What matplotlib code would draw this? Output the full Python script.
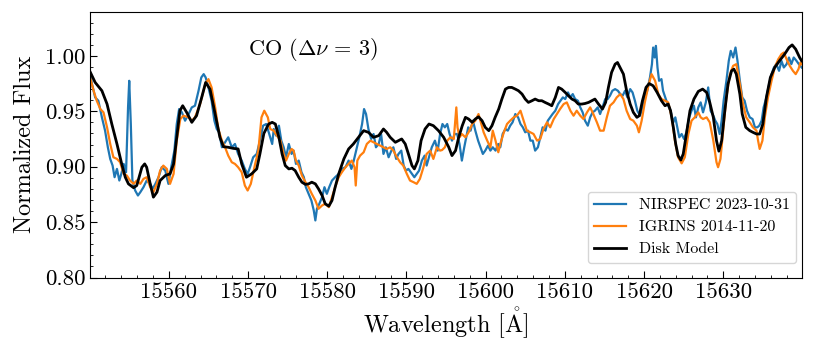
import matplotlib
matplotlib.use("Agg")
import matplotlib.pyplot as plt
from matplotlib.ticker import MultipleLocator, FuncFormatter

plt.rcParams['font.family'] = 'serif'
plt.rcParams['font.serif'] = ['cmr10']
plt.rcParams['mathtext.fontset'] = 'cm'
plt.rcParams['axes.formatter.use_mathtext'] = True
plt.rcParams['axes.unicode_minus'] = False

# ---- data -------------------------------------------------------------
nirspec_wl = [
    15550.0, 15550.3, 15550.7, 15551.1, 15551.55, 15551.95, 15552.3, 15552.6, 15552.9, 15553.15,
    15553.45, 15553.75, 15554.0, 15554.3, 15554.6, 15554.85, 15555.0, 15555.2, 15555.4, 15555.75,
    15556.1, 15556.4, 15556.8, 15557.2, 15557.65, 15557.95, 15558.3, 15558.7, 15559.1, 15559.55,
    15559.95, 15560.3, 15560.7, 15561.0, 15561.3, 15561.65, 15562.05, 15562.5, 15562.9, 15563.3,
    15563.75, 15564.1, 15564.4, 15564.65, 15565.0, 15565.4, 15565.75, 15566.05, 15566.35, 15566.7,
    15567.1, 15567.5, 15567.95, 15568.35, 15568.75, 15569.2, 15569.6, 15569.95, 15570.25, 15570.65,
    15571.1, 15571.5, 15571.9, 15572.3, 15572.55, 15572.8, 15573.05, 15573.25, 15573.55, 15573.9,
    15574.2, 15574.5, 15574.8, 15575.15, 15575.5, 15575.75, 15576.05, 15576.4, 15576.75, 15577.05,
    15577.3, 15577.65, 15578.0, 15578.3, 15578.5, 15578.7, 15579.0, 15579.35, 15579.65, 15579.95,
    15580.25, 15580.6, 15581.0, 15581.45, 15581.85, 15582.3, 15582.7, 15583.05, 15583.35, 15583.75,
    15584.05, 15584.4, 15584.65, 15584.9, 15585.2, 15585.55, 15585.85, 15586.15, 15586.5, 15586.8,
    15587.1, 15587.4, 15587.75, 15588.1, 15588.35, 15588.7, 15589.0, 15589.35, 15589.65, 15589.95,
    15590.25, 15590.7, 15591.0, 15591.3, 15591.6, 15591.95, 15592.3, 15592.55, 15592.85, 15593.2,
    15593.6, 15593.95, 15594.25, 15594.55, 15594.85, 15595.15, 15595.45, 15595.75, 15596.1, 15596.4,
    15596.7, 15597.0, 15597.3, 15597.55, 15597.8, 15598.1, 15598.4, 15598.7, 15599.05, 15599.35,
    15599.65, 15599.95, 15600.3, 15600.6, 15600.9, 15601.25, 15601.6, 15601.85, 15602.15, 15602.5,
    15602.8, 15603.1, 15603.4, 15603.75, 15604.1, 15604.4, 15604.7, 15605.0, 15605.35, 15605.65,
    15605.95, 15606.25, 15606.6, 15606.9, 15607.2, 15607.55, 15607.85, 15608.15, 15608.45, 15608.8,
    15609.15, 15609.45, 15609.75, 15610.05, 15610.4, 15610.7, 15611.0, 15611.3, 15611.65, 15611.95,
    15612.25, 15612.55, 15612.9, 15613.2, 15613.5, 15613.8, 15614.15, 15614.45, 15614.75, 15615.1,
    15615.4, 15615.7, 15616.0, 15616.35, 15616.7, 15617.0, 15617.3, 15617.6, 15617.9, 15618.25,
    15618.55, 15618.85, 15619.15, 15619.5, 15619.8, 15620.1, 15620.4, 15620.75, 15621.0, 15621.15,
    15621.35, 15621.5, 15621.7, 15621.9, 15622.2, 15622.4, 15622.75, 15623.05, 15623.35, 15623.7,
    15623.95, 15624.2, 15624.45, 15624.75, 15625.05, 15625.35, 15625.7, 15626.0, 15626.3, 15626.55,
    15626.85, 15627.15, 15627.45, 15627.8, 15628.1, 15628.4, 15628.75, 15629.0, 15629.25, 15629.55,
    15629.8, 15630.05, 15630.4, 15630.7, 15630.95, 15631.25, 15631.55, 15631.8, 15632.1, 15632.4,
    15632.7, 15633.0, 15633.35, 15633.7, 15634.0, 15634.3, 15634.55, 15634.85, 15635.1, 15635.45,
    15635.8, 15636.1, 15636.4, 15636.7, 15637.05, 15637.35, 15637.65, 15638.0, 15638.3, 15638.6,
    15638.9, 15639.25, 15639.55, 15639.9,
]
nirspec_flux = [
    0.9865, 0.9745, 0.9625, 0.9595, 0.9445, 0.9325, 0.9175, 0.907, 0.901, 0.8905,
    0.898, 0.8875, 0.8935, 0.9025, 0.895, 0.9535, 0.9775, 0.9385, 0.8875, 0.8785,
    0.874, 0.877, 0.8815, 0.8875, 0.8845, 0.880, 0.8845, 0.8905, 0.8995, 0.8965,
    0.8845, 0.8995, 0.9145, 0.9385, 0.952, 0.949, 0.9415, 0.9475, 0.9535, 0.955,
    0.9685, 0.9805, 0.9835, 0.9805, 0.9715, 0.9595, 0.9415, 0.934, 0.931, 0.9175,
    0.922, 0.9265, 0.9175, 0.9205, 0.9115, 0.9055, 0.898, 0.8935, 0.8995, 0.9085,
    0.9115, 0.9235, 0.937, 0.9385, 0.9325, 0.9265, 0.9205, 0.934, 0.928, 0.937,
    0.9235, 0.9175, 0.9085, 0.9205, 0.9115, 0.9145, 0.9025, 0.9055, 0.895, 0.8905,
    0.8815, 0.8755, 0.8695, 0.8605, 0.8515, 0.862, 0.8665, 0.8725, 0.8815, 0.8755,
    0.8815, 0.8875, 0.8905, 0.8935, 0.898, 0.8995, 0.9055, 0.898, 0.9055, 0.9175,
    0.9265, 0.9385, 0.952, 0.9475, 0.934, 0.925, 0.9295, 0.9175, 0.9205, 0.9295,
    0.9115, 0.9175, 0.9085, 0.9145, 0.9175, 0.907, 0.9115, 0.9145, 0.901, 0.8965,
    0.898, 0.8935, 0.8905, 0.8935, 0.8965, 0.9055, 0.910, 0.901, 0.9085, 0.9175,
    0.9235, 0.9145, 0.9295, 0.9385, 0.9355, 0.9385, 0.9295, 0.9235, 0.9295, 0.9295,
    0.9205, 0.9055, 0.9175, 0.9265, 0.9355, 0.9325, 0.9415, 0.9325, 0.9235, 0.9175,
    0.9115, 0.9145, 0.919, 0.9145, 0.9175, 0.9145, 0.9205, 0.9175, 0.9295, 0.934,
    0.9325, 0.937, 0.940, 0.9475, 0.9445, 0.9385, 0.9355, 0.931, 0.9325, 0.9235,
    0.9235, 0.9145, 0.9175, 0.9265, 0.9355, 0.9325, 0.9415, 0.9445, 0.9475, 0.9505,
    0.9565, 0.9595, 0.9625, 0.961, 0.967, 0.9625, 0.9655, 0.961, 0.9595, 0.9535,
    0.949, 0.9415, 0.937, 0.9445, 0.949, 0.9505, 0.9535, 0.9475, 0.9535, 0.961,
    0.961, 0.964, 0.9685, 0.970, 0.9685, 0.9655, 0.964, 0.9685, 0.9625, 0.970,
    0.967, 0.9595, 0.9505, 0.946, 0.9535, 0.9625, 0.9685, 0.9805, 0.9925, 1.0075,
    0.9985, 1.009, 0.9895, 0.9775, 0.979, 0.9685, 0.961, 0.955, 0.9505, 0.940,
    0.9445, 0.9355, 0.9265, 0.9295, 0.925, 0.931, 0.9445, 0.9505, 0.955, 0.9445,
    0.9535, 0.958, 0.949, 0.958, 0.9715, 0.9505, 0.946, 0.9415, 0.9385, 0.9295,
    0.9415, 0.9595, 0.9775, 0.9955, 1.0045, 0.9985, 1.0075, 0.9955, 0.9775, 0.9625,
    0.9595, 0.9505, 0.9445, 0.943, 0.9355, 0.9355, 0.937, 0.9415, 0.9535, 0.9625,
    0.9745, 0.9835, 0.9895, 0.9925, 0.9865, 0.9955, 0.9895, 0.9925, 0.9985, 0.9925,
    0.9985, 0.9955, 0.9925, 0.9895,
]

igrins_wl = [
    15550.0, 15550.5, 15550.9, 15551.35, 15551.75, 15552.2, 15552.6, 15553.0, 15553.45, 15553.85,
    15554.3, 15554.7, 15555.1, 15555.55, 15555.95, 15556.4, 15556.8, 15557.2, 15557.65, 15558.05,
    15558.5, 15558.9, 15559.3, 15559.75, 15560.15, 15560.6, 15561.0, 15561.45, 15561.85, 15562.5,
    15562.9, 15563.3, 15563.95, 15564.6, 15565.0, 15565.4, 15565.85, 15566.25, 15566.7, 15567.1,
    15567.5, 15567.95, 15568.35, 15568.75, 15569.2, 15569.6, 15569.95, 15570.35, 15570.9, 15571.3,
    15571.7, 15572.05, 15572.5, 15572.8, 15573.25, 15573.65, 15574.1, 15574.5, 15574.8, 15575.15,
    15575.5, 15575.75, 15576.05, 15576.4, 15576.8, 15577.25, 15577.65, 15578.05, 15578.5, 15578.9,
    15579.35, 15579.75, 15580.2, 15580.6, 15581.0, 15581.45, 15581.85, 15582.3, 15582.7, 15583.1,
    15583.45, 15583.6, 15583.8, 15584.15, 15584.6, 15585.0, 15585.45, 15585.85, 15586.25, 15586.7,
    15587.1, 15587.5, 15587.95, 15588.35, 15588.8, 15589.2, 15589.6, 15590.05, 15590.45, 15590.9,
    15591.3, 15591.7, 15592.15, 15592.55, 15593.0, 15593.4, 15593.85, 15594.25, 15594.5, 15594.85,
    15595.15, 15595.55, 15595.98, 15596.3, 15596.45, 15596.7, 15597.0, 15597.45, 15597.85, 15598.3,
    15598.7, 15599.1, 15599.45, 15599.75, 15600.2, 15600.6, 15600.9, 15601.25, 15601.6, 15601.85,
    15602.3, 15602.7, 15603.1, 15603.55, 15603.95, 15604.4, 15604.8, 15605.2, 15605.65, 15606.05,
    15606.5, 15606.9, 15607.3, 15607.75, 15608.15, 15608.6, 15609.0, 15609.4, 15609.85, 15610.25,
    15610.7, 15611.1, 15611.5, 15611.95, 15612.35, 15612.8, 15613.2, 15613.6, 15614.05, 15614.45,
    15614.9, 15615.3, 15615.7, 15616.15, 15616.55, 15617.0, 15617.4, 15617.8, 15618.25, 15618.65,
    15619.1, 15619.35, 15619.7, 15620.1, 15620.55, 15620.95, 15621.4, 15621.8, 15622.2, 15622.65,
    15623.05, 15623.5, 15623.9, 15624.3, 15624.75, 15625.15, 15625.6, 15626.0, 15626.4, 15626.85,
    15627.15, 15627.45, 15627.9, 15628.3, 15628.75, 15629.15, 15629.35, 15629.65, 15630.0, 15630.4,
    15630.85, 15631.25, 15631.65, 15632.1, 15632.5, 15632.9, 15633.35, 15633.75, 15634.2, 15634.4,
    15634.6, 15634.95, 15635.25, 15635.65, 15636.1, 15636.5, 15636.95, 15637.35, 15637.65, 15638.0,
    15638.4, 15638.8, 15639.15, 15639.5, 15639.75, 15639.9,
]
igrins_flux = [
    0.982, 0.9685, 0.9595, 0.952, 0.949, 0.9355, 0.9205, 0.9085, 0.907, 0.904,
    0.8935, 0.892, 0.8875, 0.8845, 0.8875, 0.8845, 0.889, 0.8905, 0.8815, 0.877,
    0.8845, 0.8965, 0.901, 0.898, 0.8845, 0.8935, 0.9235, 0.943, 0.946, 0.9445,
    0.9415, 0.9445, 0.9565, 0.9745, 0.979, 0.9715, 0.9535, 0.934, 0.9235, 0.9175,
    0.910, 0.904, 0.9025, 0.8995, 0.895, 0.883, 0.8785, 0.8845, 0.9025, 0.9145,
    0.9445, 0.9505, 0.9445, 0.934, 0.9325, 0.928, 0.9235, 0.9115, 0.9055, 0.9115,
    0.916, 0.9145, 0.9055, 0.901, 0.892, 0.886, 0.8815, 0.8755, 0.8695, 0.862,
    0.865, 0.8665, 0.8635, 0.8725, 0.8815, 0.8905, 0.895, 0.8995, 0.9025, 0.9055,
    0.8995, 0.883, 0.9055, 0.910, 0.913, 0.9205, 0.9235, 0.922, 0.9205, 0.919,
    0.9175, 0.916, 0.9175, 0.9145, 0.9085, 0.904, 0.901, 0.8935, 0.8875, 0.886,
    0.8845, 0.889, 0.8995, 0.9115, 0.9145, 0.907, 0.9175, 0.9145, 0.915, 0.9175,
    0.9235, 0.9265, 0.925, 0.9535, 0.9355, 0.9265, 0.9295, 0.9265, 0.931, 0.9385,
    0.9415, 0.9475, 0.9385, 0.931, 0.9235, 0.9175, 0.9325, 0.9235, 0.913, 0.9205,
    0.931, 0.9385, 0.9415, 0.9445, 0.946, 0.9505, 0.9415, 0.9325, 0.931, 0.9295,
    0.9235, 0.925, 0.934, 0.940, 0.9355, 0.943, 0.9475, 0.952, 0.9565, 0.958,
    0.9505, 0.946, 0.9505, 0.946, 0.943, 0.949, 0.9535, 0.9475, 0.940, 0.9325,
    0.9325, 0.9445, 0.955, 0.958, 0.9625, 0.9655, 0.961, 0.9505, 0.943, 0.9415,
    0.937, 0.931, 0.9415, 0.958, 0.973, 0.9835, 0.9775, 0.9655, 0.961, 0.9595,
    0.958, 0.9445, 0.9235, 0.9085, 0.903, 0.9085, 0.9295, 0.9415, 0.9445, 0.949,
    0.9445, 0.943, 0.9445, 0.940, 0.9235, 0.904, 0.8995, 0.907, 0.9325, 0.9625,
    0.9835, 0.991, 0.9925, 0.9745, 0.9565, 0.9445, 0.940, 0.9355, 0.9325, 0.9235,
    0.916, 0.9235, 0.9445, 0.9625, 0.9775, 0.9895, 0.997, 1.0015, 1.003, 0.997,
    0.991, 0.9865, 0.9835, 0.988, 0.994, 0.9925,
]

model_wl = [
    15550.0, 15550.7, 15551.55, 15552.2, 15552.8, 15553.45, 15554.05, 15554.5, 15554.9, 15555.55,
    15555.95, 15556.6, 15556.95, 15557.2, 15557.65, 15558.05, 15558.5, 15558.9, 15559.55, 15560.15,
    15560.6, 15561.0, 15561.4, 15561.75, 15562.25, 15562.9, 15563.5, 15564.15, 15564.65, 15565.2,
    15565.85, 15566.45, 15566.9, 15567.5, 15568.15, 15568.75, 15569.2, 15569.8, 15570.45, 15571.1,
    15571.5, 15572.0, 15572.6, 15573.05, 15573.45, 15573.9, 15574.3, 15574.7, 15575.15, 15575.55,
    15575.95, 15576.4, 15576.8, 15577.25, 15577.65, 15578.05, 15578.5, 15578.9, 15579.35, 15579.75,
    15580.2, 15580.6, 15581.0, 15581.45, 15582.1, 15582.7, 15583.3, 15583.95, 15584.6, 15585.2,
    15585.85, 15586.5, 15587.1, 15587.5, 15587.95, 15588.6, 15589.0, 15589.4, 15589.85, 15590.25,
    15590.7, 15591.0, 15591.45, 15591.85, 15592.35, 15592.85, 15593.4, 15594.05, 15594.7, 15595.35,
    15595.75, 15596.2, 15596.6, 15597.05, 15597.45, 15597.85, 15598.3, 15598.7, 15599.1, 15599.55,
    15599.95, 15600.4, 15600.8, 15601.2, 15601.65, 15602.05, 15602.5, 15602.9, 15603.3, 15603.75,
    15604.15, 15604.6, 15605.0, 15605.4, 15605.85, 15606.25, 15606.7, 15607.1, 15607.5, 15607.95,
    15608.35, 15608.8, 15609.2, 15609.6, 15610.05, 15610.45, 15610.9, 15611.3, 15611.7, 15612.15,
    15612.55, 15613.0, 15613.4, 15613.8, 15614.25, 15614.75, 15615.15, 15615.5, 15615.9, 15616.35,
    15616.65, 15617.4, 15617.8, 15618.25, 15618.65, 15619.1, 15619.4, 15619.8, 15620.25, 15620.65,
    15621.15, 15621.65, 15622.2, 15622.65, 15623.05, 15623.35, 15623.7, 15624.0, 15624.3, 15624.65,
    15624.95, 15625.35, 15625.8, 15626.3, 15626.85, 15627.4, 15627.9, 15628.3, 15628.75, 15629.15,
    15629.45, 15629.8, 15630.2, 15630.6, 15631.05, 15631.35, 15631.65, 15632.1, 15632.4, 15632.85,
    15633.35, 15633.75, 15634.2, 15634.6, 15635.0, 15635.45, 15635.95, 15636.5, 15637.1, 15637.75,
    15638.3, 15638.7, 15639.15, 15639.65, 15639.9,
]
model_flux = [
    0.9865, 0.976, 0.9685, 0.9565, 0.9385, 0.9205, 0.9025, 0.8905, 0.8845, 0.881,
    0.883, 0.8995, 0.9025, 0.8995, 0.8845, 0.8725, 0.877, 0.8875, 0.892, 0.8935,
    0.9025, 0.9265, 0.9505, 0.955, 0.949, 0.940, 0.946, 0.9625, 0.976, 0.970,
    0.9475, 0.9265, 0.918, 0.9175, 0.9165, 0.916, 0.9025, 0.8905, 0.8935, 0.898,
    0.9115, 0.930, 0.9385, 0.940, 0.9385, 0.9265, 0.9115, 0.901, 0.898, 0.8986,
    0.8965, 0.8905, 0.886, 0.884, 0.8845, 0.886, 0.8845, 0.880, 0.874, 0.8665,
    0.8644, 0.8695, 0.8815, 0.8935, 0.907, 0.916, 0.9205, 0.9265, 0.9325, 0.931,
    0.9265, 0.928, 0.934, 0.931, 0.9265, 0.922, 0.9235, 0.925, 0.9205, 0.9115,
    0.901, 0.898, 0.9055, 0.9235, 0.934, 0.9385, 0.937, 0.9325, 0.9265, 0.9175,
    0.910, 0.9145, 0.9265, 0.937, 0.9445, 0.943, 0.940, 0.943, 0.945, 0.9415,
    0.9355, 0.9325, 0.937, 0.9445, 0.952, 0.961, 0.970, 0.9715, 0.9715, 0.970,
    0.9685, 0.9655, 0.961, 0.958, 0.9595, 0.961, 0.9595, 0.9595, 0.958, 0.9565,
    0.955, 0.9625, 0.9715, 0.970, 0.967, 0.964, 0.961, 0.9595, 0.9565, 0.9565,
    0.957, 0.958, 0.9595, 0.961, 0.9565, 0.952, 0.958, 0.9715, 0.985, 0.9925,
    0.994, 0.9835, 0.9685, 0.9565, 0.949, 0.9445, 0.946, 0.9595, 0.9715, 0.975,
    0.973, 0.967, 0.9595, 0.955, 0.9565, 0.9505, 0.9355, 0.9205, 0.910, 0.906,
    0.9115, 0.9295, 0.9505, 0.961, 0.9679, 0.970, 0.967, 0.958, 0.9445, 0.9235,
    0.914, 0.9235, 0.9505, 0.9745, 0.9865, 0.988, 0.9835, 0.9655, 0.9475, 0.9355,
    0.9325, 0.931, 0.9295, 0.9295, 0.9385, 0.9625, 0.9805, 0.9895, 0.9955, 1.0015,
    1.0075, 1.0099, 1.006, 0.9985, 0.9955,
]

labels = ["NIRSPEC 2023-10-31", "IGRINS 2014-11-20", "Disk Model"]
colors = ["#1f77b4", "#ff7f0e", "black"]

# ---- plot -------------------------------------------------------------
fig = plt.figure(figsize=(8.14, 3.52), dpi=100)
ax = fig.add_axes([0.1106, 0.2116, 0.8747, 0.7557])

ax.plot(nirspec_wl, nirspec_flux, color=colors[0], lw=1.6, label=labels[0])
ax.plot(igrins_wl, igrins_flux, color=colors[1], lw=1.6, label=labels[1])
ax.plot(model_wl, model_flux, color=colors[2], lw=2.0, label=labels[2])

ax.set_xlim(15550.05, 15639.95)
ax.set_ylim(0.80, 1.04)
ax.xaxis.set_major_locator(MultipleLocator(10))
ax.xaxis.set_minor_locator(MultipleLocator(2))
ax.yaxis.set_major_locator(MultipleLocator(0.05))
ax.yaxis.set_minor_locator(MultipleLocator(0.01))
ax.tick_params(which='both', direction='in', labelsize=16.5)
ax.tick_params(which='major', length=5)
ax.tick_params(which='minor', length=2.5)
ax.xaxis.set_major_formatter(FuncFormatter(lambda v, p: f"{v:.0f}"))
ax.yaxis.set_major_formatter(FuncFormatter(lambda v, p: f"{v:.2f}"))

ax.set_xlabel(r'Wavelength [$\mathring{\mathrm{A}}$]', fontsize=17.5, labelpad=3)
ax.set_ylabel('Normalized Flux', fontsize=17.5, labelpad=6)
ax.text(15570.0, 1.006, r'CO ($\Delta\nu\,=\,3$)', fontsize=16, ha='left', va='center')

ax.legend(loc='lower right', fontsize=11.5, bbox_to_anchor=(1.003, 0.025))

fig.savefig('out.png', dpi=100)
